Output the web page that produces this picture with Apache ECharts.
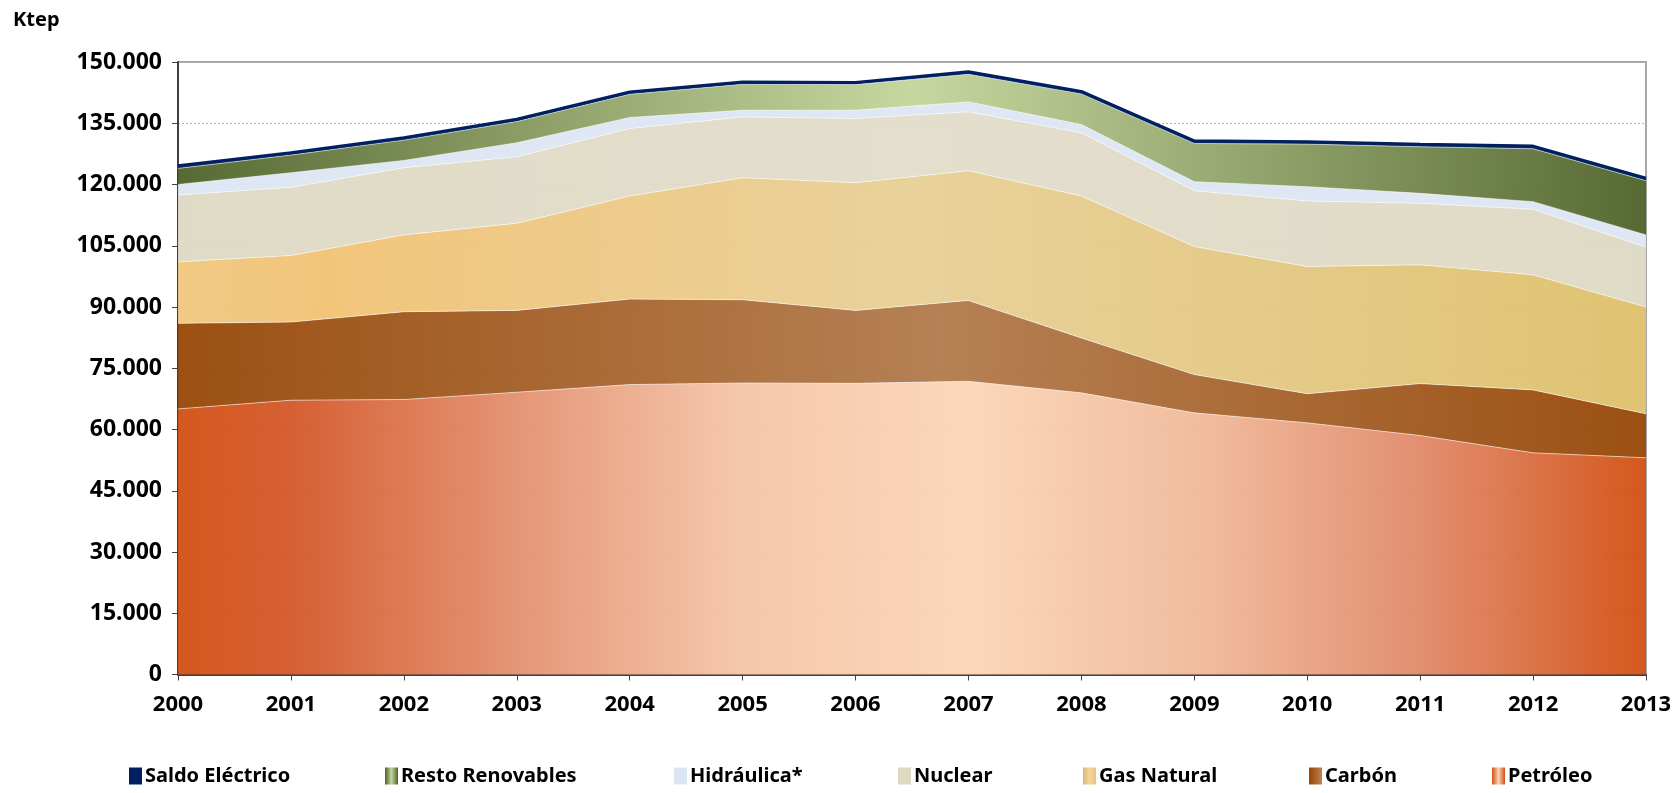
<!DOCTYPE html>
<html>
<head>
<meta charset="utf-8">
<title>Ktep</title>
<script src="https://cdn.jsdelivr.net/npm/echarts@6/dist/echarts.min.js"></script>
<style>
  html, body { margin: 0; padding: 0; background: #fff; }
  #chart { width: 1680px; height: 793px; }
</style>
</head>
<body>
<div id="chart"></div>
<script>
// datos (ktep)
var years = ['2000', '2001', '2002', '2003', '2004', '2005', '2006', '2007', '2008', '2009', '2010', '2011', '2012', '2013'];
var petroleo = [65050, 67170, 67340, 69130, 71000, 71400, 71300, 71800, 68970, 64080, 61630, 58530, 54290, 53070];
var carbon = [20950, 19150, 21500, 20040, 20940, 20380, 17870, 19810, 13440, 9370, 7130, 12720, 15410, 10770];
var gasNatural = [15060, 16290, 18820, 21330, 25240, 29880, 31270, 31760, 34770, 31350, 31160, 29080, 28180, 26140];
var nuclear = [16370, 16690, 16440, 16290, 16530, 14900, 15720, 14420, 15480, 13680, 16040, 15060, 16050, 14660];
var hidraulica = [2570, 3580, 1800, 3420, 2690, 1630, 2030, 2440, 2030, 2200, 3500, 2440, 1870, 3010];
var restoRenovables = [3940, 4320, 4960, 5210, 5700, 6350, 6270, 6760, 7490, 9370, 10430, 11410, 12950, 13280];
var saldoElectrico = [650, 600, 600, 550, 550, 550, 550, 600, 600, 650, 600, 600, 650, 600];
var yTicks = { min: 0, max: 150000, step: 15000 };

var myChart = echarts.init(document.getElementById('chart'));
var font = 'Noto Sans';

function hGrad(stops) {
  return new echarts.graphic.LinearGradient(0, 0, 1, 0, stops.map(function (s) {
    return { offset: s[0], color: s[1] };
  }));
}

var colPetroleo = hGrad([[0, '#D24F12'], [0.08, '#D4582A'], [0.23, '#E39070'], [0.38, '#F5C4A6'], [0.54, '#FBD5B6'], [0.7, '#F0B898'], [0.85, '#E08868'], [1, '#D24F12']]);
var colCarbon = hGrad([[0, '#974706'], [0.52, '#B17A4C'], [1, '#974706']]);
var colGas = hGrad([[0, '#F0C77E'], [0.1, '#F2C274'], [0.5, '#E7CF96'], [1, '#DEC06B']]);
var colNuclear = hGrad([[0, '#DDD9C3'], [0.5, '#E2DDCA'], [1, '#DDD9C3']]);
var colHidraulica = '#DCE6F2';
var colResto = hGrad([[0, '#4F6228'], [0.5, '#C3D69B'], [1, '#4F6228']]);
var colSaldo = '#002060';

// iconos de leyenda
var iconPetroleo = hGrad([[0, '#D24F12'], [0.5, '#FAD3B3'], [1, '#D24F12']]);
var iconCarbon = hGrad([[0, '#974706'], [1, '#C08050']]);
var iconGas = hGrad([[0, '#D9B870'], [0.5, '#F2D59A'], [1, '#E8C57E']]);
var iconResto = hGrad([[0, '#4F6228'], [0.5, '#C3D69B'], [1, '#4F6228']]);

function areaSeries(name, data, color, line) {
  return {
    name: name,
    type: 'line',
    stack: 'total',
    data: data,
    showSymbol: false,
    symbol: 'none',
    itemStyle: { color: color },
    lineStyle: line || { width: 1, color: 'rgba(255,255,255,0.55)' },
    areaStyle: { color: color, opacity: 0.95 },
    emphasis: { disabled: true }
  };
}

function legendAt(left, name, icon) {
  return {
    left: left,
    top: 761,
    icon: 'rect',
    itemWidth: 13,
    itemHeight: 17,
    itemGap: 6,
    data: [{ name: name, itemStyle: { color: icon } }],
    textStyle: { fontFamily: font, fontWeight: 'bold', fontSize: 20, color: '#000', padding: [0, 0, 0, -2] }
  };
}

var option = {
  animation: false,
  backgroundColor: '#fff',
  title: {
    text: 'Ktep',
    left: 8,
    top: 5,
    textStyle: { fontFamily: font, fontWeight: 'bold', fontSize: 20, color: '#000' }
  },
  legend: [
    legendAt(124, 'Saldo Eléctrico', colSaldo),
    legendAt(380, 'Resto Renovables', iconResto),
    legendAt(669, 'Hidráulica*', colHidraulica),
    legendAt(893, 'Nuclear', '#DDD9C3'),
    legendAt(1078, 'Gas Natural', iconGas),
    legendAt(1304, 'Carbón', iconCarbon),
    legendAt(1487, 'Petróleo', iconPetroleo)
  ],
  grid: {
    left: 178,
    right: 34,
    top: 62,
    bottom: 118.5,
    show: true,
    borderColor: '#A6A6A6',
    borderWidth: 2,
    backgroundColor: 'transparent'
  },
  xAxis: {
    type: 'category',
    data: years,
    boundaryGap: false,
    axisLine: { lineStyle: { color: '#404040', width: 2 } },
    axisTick: { show: true, length: 6, lineStyle: { color: '#404040' } },
    axisLabel: { fontFamily: font, fontWeight: 'bold', fontSize: 22, color: '#000', margin: 19 },
    splitLine: { show: false }
  },
  yAxis: {
    type: 'value',
    min: yTicks.min,
    max: yTicks.max,
    interval: yTicks.step,
    axisLine: { show: true, lineStyle: { color: '#404040', width: 2 } },
    axisTick: { show: true, length: 6, lineStyle: { color: '#404040' } },
    axisLabel: {
      fontFamily: font, fontWeight: 'bold', fontSize: 23, color: '#000', margin: 16,
      formatter: function (v) {
        return String(v).replace(/\B(?=(\d{3})+(?!\d))/g, '.');
      }
    },
    splitLine: { show: true, lineStyle: { color: '#B0B0B0', type: [2, 2], width: 1 } }
  },
  series: [
    areaSeries('Petróleo', petroleo, colPetroleo),
    areaSeries('Carbón', carbon, colCarbon),
    areaSeries('Gas Natural', gasNatural, colGas),
    areaSeries('Nuclear', nuclear, colNuclear),
    areaSeries('Hidráulica*', hidraulica, colHidraulica),
    areaSeries('Resto Renovables', restoRenovables, colResto),
    areaSeries('Saldo Eléctrico', saldoElectrico, colSaldo, { width: 3, color: colSaldo })
  ]
};

option && myChart.setOption(option);
</script>
</body>
</html>
